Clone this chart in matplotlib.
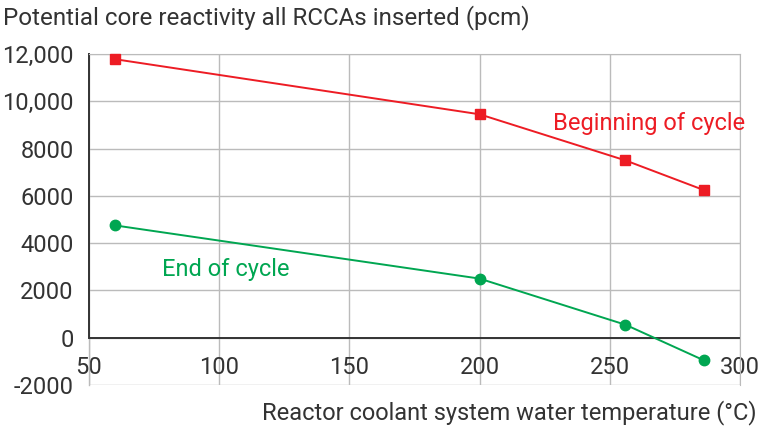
import numpy as np
import matplotlib.pyplot as plt

plt.rcParams['font.family'] = ['Roboto', 'DejaVu Sans']

temps = [60, 200, 256, 286]
boc = [11780, 9450, 7500, 6250]
eoc = [4750, 2500, 550, -950]
yticks = [-2000, 0, 2000, 4000, 6000, 8000, 10000, 12000]
ylabels = ['-2000', '0', '2000', '4000', '6000', '8000', '10,000', '12,000']
xticks = [50, 100, 150, 200, 250, 300]

red = '#ED1C24'
green = '#00A651'
txt = '#333333'
fs = 17

fig = plt.figure(figsize=(7.61, 4.30), dpi=100)
ax = fig.add_axes([89/761, 1-385/430, 651/761, 331/430])

ax.plot(temps, boc, color=red, lw=1.4, marker='s', ms=7.5, zorder=3, clip_on=False)
ax.plot(temps, eoc, color=green, lw=1.4, marker='o', ms=7.5, zorder=3, clip_on=False)

ax.set_xlim(50, 300)
ax.set_ylim(-2000, 12000)
ax.set_xticks(xticks)
ax.set_yticks(yticks)
ax.set_yticklabels(ylabels)
ax.grid(True, color='#BBBBBB', lw=1)
ax.set_axisbelow(True)
for s in ['top', 'right']:
    ax.spines[s].set_color('#BBBBBB')
ax.spines['bottom'].set_visible(False)
ax.spines['left'].set_visible(False)
ax.axhline(0, color='#333333', lw=1.4, zorder=2)
ax.plot([50, 50], [0, 12000], color='#333333', lw=1.4, zorder=2, clip_on=False)
ax.plot([50, 50], [-2000, 0], color='#BBBBBB', lw=1, zorder=1, clip_on=False)

ax.tick_params(axis='both', length=0, labelsize=fs, labelcolor=txt)
ax.tick_params(axis='y', pad=11)
ax.tick_params(axis='x', pad=-21)

ax.text(228, 9050, 'Beginning of cycle', color=red, fontsize=fs, ha='left', va='center')
ax.text(78, 2870, 'End of cycle', color=green, fontsize=fs, ha='left', va='center')

fig.text(3/761, 1-18/430, 'Potential core reactivity all RCCAs inserted (pcm)',
         fontsize=17.4, color=txt, ha='left', va='center')
fig.text(757/761, 1-413/430, 'Reactor coolant system water temperature (°C)',
         fontsize=fs, color=txt, ha='right', va='center')

fig.savefig('out.png', dpi=100)
